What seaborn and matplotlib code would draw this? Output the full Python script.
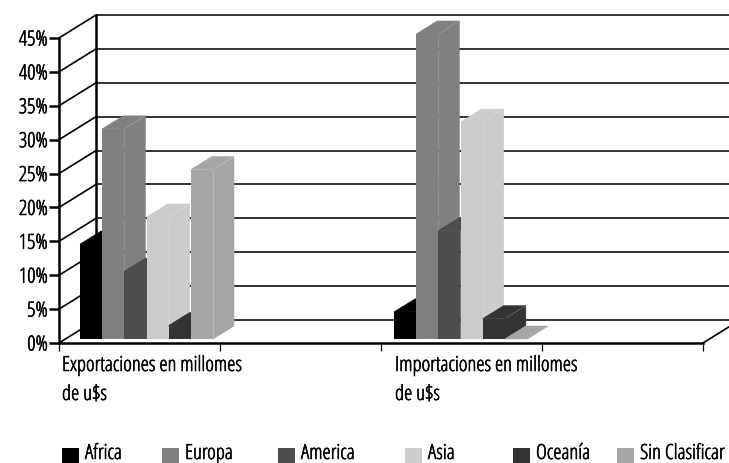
import matplotlib
matplotlib.use("Agg")
import matplotlib.pyplot as plt
import matplotlib.patheffects as pe
from matplotlib.patches import Polygon, Rectangle
import pandas as pd
import seaborn as sns

# valores
grupos = ["Exportaciones en millomes\nde u$s", "Importaciones en millomes\nde u$s"]
regiones = ["Africa", "Europa", "America", "Asia", "Oceanía", "Sin Clasificar"]
exportaciones = [14, 31, 10, 18, 2, 25]
importaciones = [4, 45, 16, 32, 3, 0]
colores = ["#000000", "#808080", "#4d4d4d", "#cccccc", "#333333", "#a6a6a6"]
aristas = ["#000000", "#a0a0a0", "#4d4d4d", "#dcdcdc", "#707070", "#c4c4c4"]
ticks_y = [0, 5, 10, 15, 20, 25, 30, 35, 40, 45]
legend_sq_x = [62, 162, 278, 405, 513, 617]

W, H = 729, 463
X0, X1 = 59, 703      # eje frontal en pixeles
Y0, Y45 = 343, 38
PARED_DX, PARED_DY = 37, 23   # profundidad de la pared
BAR_DX, BAR_DY = 21, 13       # profundidad de cada barra
CENTRO_1, CENTRO_2 = 146.5, 460.5
BASE_PX = 4           # las barras arrancan un poco por encima del eje

df = pd.DataFrame({
    "grupo": [grupos[0]] * 6 + [grupos[1]] * 6,
    "region": regiones * 2,
    "valor": exportaciones + importaciones,
})

TAM = 15
GROSOR = [pe.withStroke(linewidth=0.4, foreground="black")]  # la condensada es muy fina
sns.set_theme(style="white")
plt.rcParams["font.family"] = ["Open Sans", "DejaVu Sans"]
plt.rcParams["font.stretch"] = "condensed"
plt.rcParams["font.weight"] = "light"

fig = plt.figure(figsize=(W / 100, H / 100), dpi=100, facecolor="white")
rect = [X0 / W, 1 - Y0 / H, (X1 - X0) / W, (Y0 - Y45) / H]

# fondo: paredes en coordenadas de pixel
bg = fig.add_axes([0, 0, 1, 1], zorder=0)
bg.set_xlim(0, W)
bg.set_ylim(H, 0)
bg.axis("off")
px_por_pct = (Y0 - Y45) / 45
for t in ticks_y:
    yf = Y0 - t * px_por_pct
    bg.plot([X0, X0 + PARED_DX], [yf, yf - PARED_DY], color="black", lw=1.2, solid_capstyle="butt")
    bg.plot([X0 + PARED_DX, W], [yf - PARED_DY, yf - PARED_DY], color="#333333", lw=1.4)
bg.plot([X0 + PARED_DX] * 2, [Y0 - PARED_DY, Y45 - PARED_DY], color="black", lw=1.8)
bg.plot([X1, W], [Y0, Y0 - (W - X1) * PARED_DY / PARED_DX], color="black", lw=1.2)

# ejes frontales con marcas y etiquetas
ax = fig.add_axes(rect, zorder=3)
ax.patch.set_alpha(0)
ax.set_xlim(0, 4)
ax.set_ylim(0, 45)
ax.set_yticks(ticks_y)
ax.set_yticklabels([f"{t}%" for t in ticks_y], fontsize=TAM, color="black", path_effects=GROSOR)
ax.set_xticks([0, 1, 2, 3, 4])
ax.set_xticklabels([])
ax.tick_params(axis="y", length=7, width=1.8, color="black", pad=1, left=True)
ax.tick_params(axis="x", length=6, width=0.9, color="black", bottom=True)
for s in ["top", "right"]:
    ax.spines[s].set_visible(False)
ax.spines["left"].set_linewidth(1.8)
ax.spines["left"].set_color("black")
ax.spines["bottom"].set_linewidth(1.8)
ax.spines["bottom"].set_color("black")

# barras: misma escala, base desplazada
ax_b = fig.add_axes(rect, zorder=2)
ax_b.patch.set_alpha(0)
sep = CENTRO_2 - CENTRO_1
sns.barplot(data=df, x="grupo", y="valor", hue="region", hue_order=regiones,
            palette=colores, width=133 / sep, gap=0, saturation=1, legend=False,
            dodge=True, ax=ax_b)
ax_b.set_xlim((X0 - CENTRO_1) / sep, (X1 - CENTRO_1) / sep)
ax_b.set_ylim(-BASE_PX / px_por_pct, 45 - BASE_PX / px_por_pct)
ax_b.axis("off")

ddx = BAR_DX / sep
ddy = BAR_DY / px_por_pct
for i, (cont, col, ar) in enumerate(zip(ax_b.containers, colores, aristas)):
    for bar in cont:
        x, w, h = bar.get_x(), bar.get_width(), bar.get_height()
        xr = x + w
        z = 2 + i
        bar.set_zorder(z + 0.5)
        bar.set_edgecolor("none")
        bar.set_clip_on(False)
        # borde del mismo color para que no se vea costura entre caras
        ax_b.add_patch(Polygon([(x, h), (xr, h), (xr + ddx, h + ddy), (x + ddx, h + ddy)],
                               facecolor=col, edgecolor=col, lw=0.4, zorder=z, clip_on=False))
        ax_b.add_patch(Polygon([(xr, 0), (xr + ddx, ddy), (xr + ddx, h + ddy), (xr, h)],
                               facecolor=col, edgecolor=col, lw=0.4, zorder=z, clip_on=False))
        if h > 0:
            # arista clara del techo y del frente
            ax_b.plot([xr + ddx * 0.1, xr + ddx], [h + ddy * 0.1, h + ddy], color=ar, lw=0.5,
                      zorder=z + 0.6, clip_on=False)
            if i in (3, 5):
                ax_b.plot([xr, xr], [0, h], color=ar, lw=0.5, zorder=z + 0.6, clip_on=False)

# etiquetas de categoria
for xp, txt in zip([62, 395], grupos):
    l1, l2 = txt.split("\n")
    fig.text(xp / W, 1 - 366 / H, l1, fontsize=TAM, va="center", color="black", path_effects=GROSOR)
    fig.text(xp / W, 1 - 395 / H, l2, fontsize=TAM, va="center", color="black", path_effects=GROSOR)

# leyenda
for sx, nombre, col in zip(legend_sq_x, regiones, colores):
    fig.add_artist(Rectangle((sx / W, 1 - 463 / H), 17 / W, 15 / H, transform=fig.transFigure,
                             facecolor=col, edgecolor="none"))
    fig.text((sx + 23) / W, 1 - 454 / H, nombre, fontsize=TAM, va="center", color="black", path_effects=GROSOR)

fig.savefig("out.png", dpi=100)
